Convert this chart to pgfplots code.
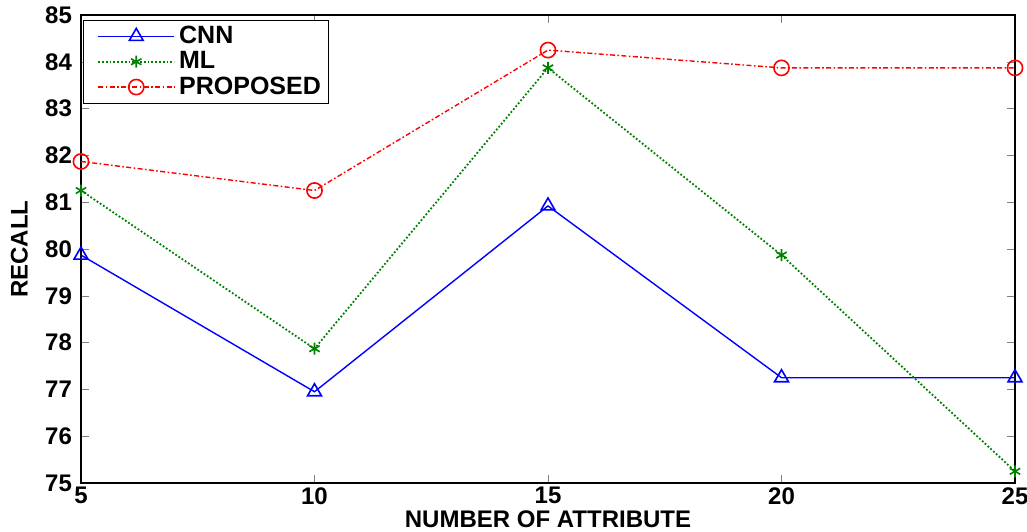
\documentclass[border=0pt]{standalone}
\usepackage{fontspec}
\setmainfont{Liberation Sans}
\usepackage{pgfplots}
\pgfplotsset{compat=1.18}
\definecolor{mgreen}{RGB}{0,128,0}
\begin{document}
\begin{tikzpicture}
\begin{axis}[
  name=ax, at={(0,0)}, anchor=south west,
  scale only axis, width=467pt, height=234pt,
  xmin=5, xmax=25, ymin=75, ymax=85,
  xtick={5,10,15,20,25}, ytick={75,76,...,85},
  tick align=inside, major tick length=4pt,
  xtick pos=both, ytick pos=both,
  tick label style={font=\fontsize{12}{13}\selectfont\bfseries},
  /pgf/number format/assume math mode=true,
  xticklabel style={yshift=-1pt, inner sep=1pt},
  yticklabel style={xshift=-1pt},
  xlabel={\fontsize{12}{13}\selectfont\bfseries NUMBER OF ATTRIBUTE},
  ylabel={\fontsize{12}{13}\selectfont\bfseries RECALL},
  xlabel style={at={(axis description cs:0.5,-0.078)}, anchor=center, inner sep=0pt},
  ylabel style={at={(axis description cs:-0.066,0.5)}, anchor=center},
  axis line style={line width=0.6pt},
  legend style={at={(0.002,0.99)}, anchor=north west, draw=black, line width=0.5pt,
    font=\fontsize{12.5}{13}\selectfont\bfseries, row sep=-1.5pt, inner xsep=2pt, inner ysep=1pt},
  legend cell align=left,
  legend image code/.code={\path (0pt,0pt); \draw[#1] (5pt,0pt) -- (43pt,0pt); \draw[#1,mark repeat=2,mark phase=2] plot coordinates {(5pt,0pt) (24pt,0pt) (43pt,0pt)};},
]
\addplot[blue, line width=0.7pt, mark=triangle, mark size=4pt, mark options={solid, line width=0.8pt}]
  coordinates {(5,79.87) (10,76.95) (15,80.92) (20,77.25) (25,77.25)};
\addlegendentry{CNN}
\addplot[mgreen, line width=0.9pt, densely dotted, mark=asterisk, mark size=3pt, mark options={solid, line width=0.8pt}]
  coordinates {(5,81.25) (10,77.87) (15,83.87) (20,79.87) (25,75.25)};
\addlegendentry{ML}
\addplot[red, line width=0.7pt, dash pattern=on 2.5pt off 1.2pt on 0.8pt off 1.2pt, mark=o, mark size=3.8pt, mark options={solid, line width=0.8pt}]
  coordinates {(5,81.87) (10,81.25) (15,84.25) (20,83.87) (25,83.87)};
\addlegendentry{PROPOSED}
\end{axis}
\pgfresetboundingbox
\path (-40.5pt,-24pt) rectangle (473pt,241.5pt);
\end{tikzpicture}
\end{document}
